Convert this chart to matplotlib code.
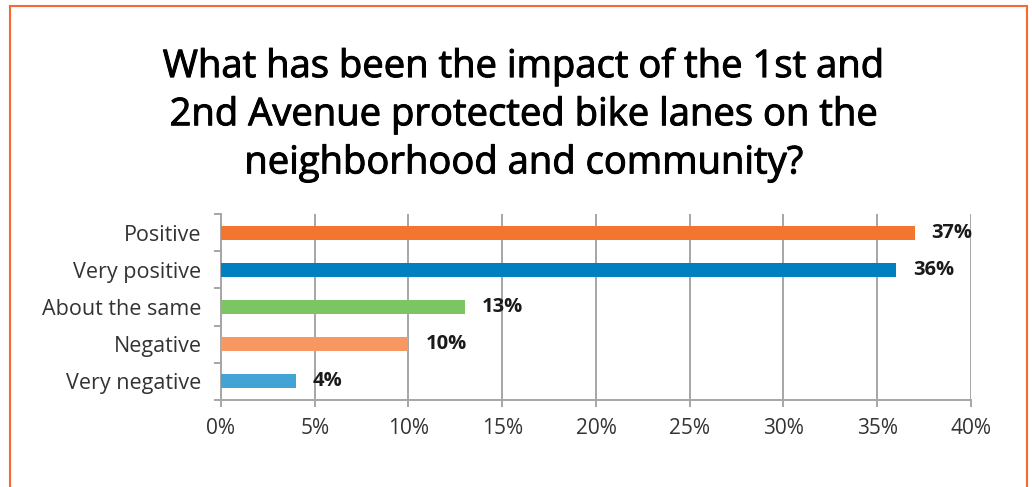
import numpy as np
import matplotlib
matplotlib.use("Agg")
import matplotlib.pyplot as plt
import matplotlib.patheffects as pe
from matplotlib.patches import Rectangle
from matplotlib.ticker import FixedLocator

plt.rcParams['font.family'] = ['Open Sans', 'DejaVu Sans']

# survey answers, top row first
categories = ["Positive", "Very positive", "About the same", "Negative", "Very negative"]
shares = [37, 36, 13, 10, 4]
bar_colors = ["#F47530", "#0080C1", "#7DC462", "#F79862", "#42A3D5"]
xticks = [0, 5, 10, 15, 20, 25, 30, 35, 40]
xtick_labels = ["%d%%" % t for t in xticks]

title = ("What has been the impact of the 1st and\n"
         "2nd Avenue protected bike lanes on the\n"
         "neighborhood and community?")

grey = "#A6A6A6"

fig = plt.figure(figsize=(10.32, 4.87), dpi=100)
ax = fig.add_axes([0.2141, 0.1786, 0.7268, 0.382])

ypos = np.arange(len(categories))
ax.barh(ypos, shares, height=0.38, color=bar_colors, zorder=3)
for y, v in zip(ypos, shares):
    ax.text(v + 0.9, y, "%d%%" % v, va="center", ha="left",
            fontsize=14.5, fontweight="bold", color="#1a1a1a")

ax.set_xlim(0, 40)
ax.set_ylim(len(categories) - 0.5, -0.5)

ax.set_xticks(xticks)
ax.set_xticklabels(xtick_labels)
ax.set_yticks(ypos)
ax.set_yticklabels(categories)
ax.yaxis.set_minor_locator(FixedLocator(np.arange(-0.5, len(categories), 1.0)))

ax.tick_params(axis="x", length=5, width=1.4, color=grey, pad=8,
               labelsize=15, labelcolor="#333333")
ax.tick_params(axis="y", which="major", length=0, pad=14,
               labelsize=15.5, labelcolor="#333333")
ax.tick_params(axis="y", which="minor", length=5, width=1.4, color=grey)

ax.grid(axis="x", color=grey, linewidth=1.4, zorder=1)
for side in ["top", "right"]:
    ax.spines[side].set_visible(False)
for side in ["left", "bottom"]:
    ax.spines[side].set_color(grey)
    ax.spines[side].set_linewidth(1.4)

# regular weight with a thin outline reads as a medium title
fig.text(0.508, 0.764, title, ha="center", va="center", fontsize=27.5,
         color="black", linespacing=1.35,
         path_effects=[pe.withStroke(linewidth=0.7, foreground="black")])

# orange frame around the chart, open at the bottom edge
fig.patches.append(Rectangle((10 / 1032, -0.05), 1017 / 1032, 0.05 + 481 / 487,
                             transform=fig.transFigure, fill=False,
                             edgecolor="#F26A2E", linewidth=1.5))

fig.savefig("out.png", dpi=100)
